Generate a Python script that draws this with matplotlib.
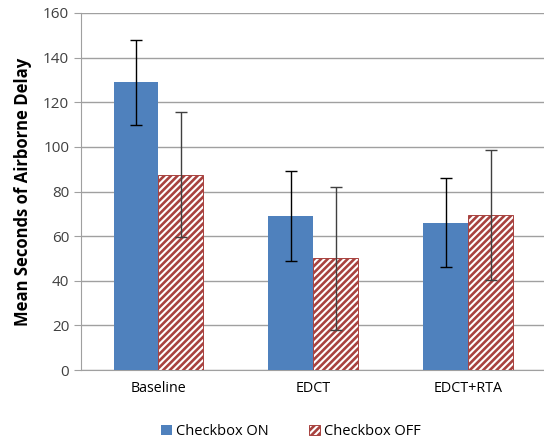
import matplotlib.pyplot as plt
import numpy as np

plt.rcParams['font.family'] = ['Open Sans', 'DejaVu Sans']
plt.rcParams['hatch.linewidth'] = 1.9

# data
categories = ['Baseline', 'EDCT', 'EDCT+RTA']
on_mean = [129, 69, 66]
on_err = [19, 20, 20]
off_mean = [87.5, 50, 69.5]
off_err = [28, 32, 29]

fig = plt.figure(figsize=(5.44, 4.43), dpi=100)
ax = fig.add_axes([81 / 544, 73 / 443, 1 - 81 / 544, 357 / 443])

x = np.arange(len(categories))
w = 0.29

ax.bar(x - w / 2, on_mean, w, color='#4F81BD', label='Checkbox ON', zorder=3)
ax.bar(x + w / 2, off_mean, w, color='white', edgecolor='#A8423F', hatch='/////',
       linewidth=0.7, label='Checkbox OFF', zorder=3)

ax.errorbar(x - w / 2, on_mean, yerr=on_err, fmt='none', ecolor='black',
            elinewidth=1, capsize=4, capthick=1, zorder=4)
ax.errorbar(x + w / 2, off_mean, yerr=off_err, fmt='none', ecolor='#404040',
            elinewidth=1, capsize=4, capthick=1, zorder=4)

ax.set_xlim(-0.5, 2.49)
ax.set_ylim(0, 160)
ax.set_yticks(np.arange(0, 161, 20))
ax.set_xticks(x)
ax.set_xticklabels(categories, fontsize=10.3)
ax.tick_params(axis='x', length=0, pad=8)
ax.tick_params(axis='y', labelsize=11, colors='#404040', length=5, color='#A0A0A0', labelcolor='#404040')

ax.grid(axis='y', color='#A0A0A0', linewidth=1, zorder=0)
for s in ['top', 'right']:
    ax.spines[s].set_visible(False)
ax.spines['left'].set_color('#A0A0A0')
ax.spines['bottom'].set_color('#A0A0A0')

ax.set_ylabel('Mean Seconds of Airborne Delay', fontsize=12, fontweight='bold', labelpad=8)

leg = fig.legend(loc='lower center', bbox_to_anchor=(0.535, -0.02), ncol=2, frameon=False,
                 fontsize=10.5, handlelength=0.7, handleheight=0.7, columnspacing=2.8,
                 handletextpad=0.3)

fig.savefig('out.png', dpi=100)
